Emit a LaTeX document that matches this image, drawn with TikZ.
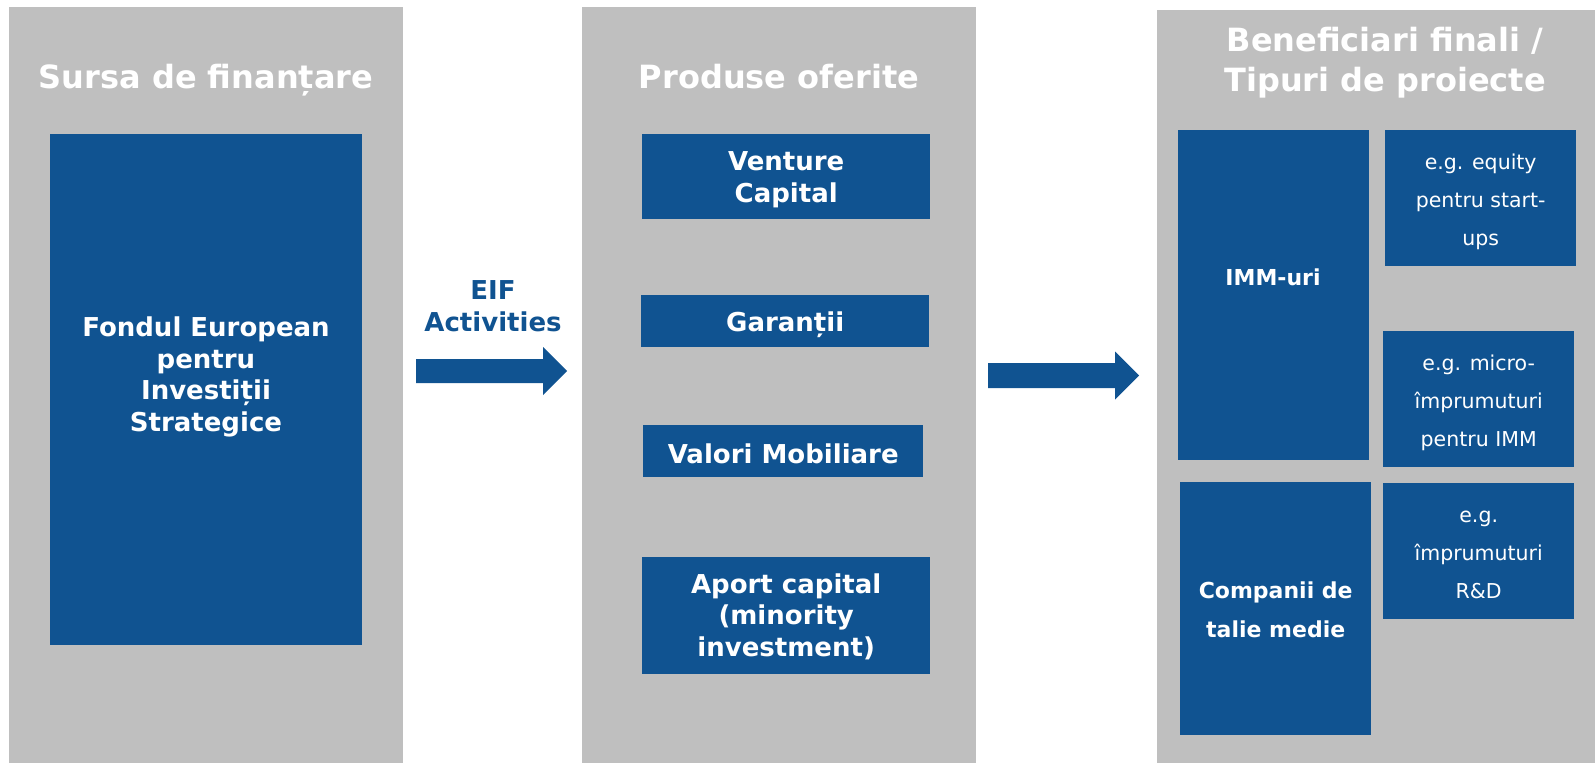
\documentclass[tikz,border=0pt]{standalone}
\usepackage{fontspec}
\setmainfont{DejaVu Sans}
\definecolor{panelgray}{HTML}{BFBFBF}
\definecolor{eifblue}{HTML}{105391}
\tikzset{
  panel/.style={fill=panelgray, draw=none, inner sep=0pt, anchor=north west},
  bbox/.style={fill=eifblue, draw=none, inner sep=0pt, anchor=north west},
  wtxt/.style={text=white, align=center, inner sep=0pt},
  head/.style={text=white, align=center, font=\fontsize{32}{40}\selectfont\bfseries},
  boldtxt/.style={wtxt, font=\fontsize{26}{31.5}\selectfont\bfseries},
  smalltxt/.style={wtxt, font=\fontsize{20.5}{38}\selectfont},
  bluearrow/.style={fill=eifblue, draw=none}
}
\begin{document}
\begin{tikzpicture}[x=1pt, y=-1pt]
\useasboundingbox (0,0) rectangle (1595,763);
% panels
\node[panel, minimum width=394pt, minimum height=756pt] (p1) at (9,7) {};
\node[panel, minimum width=394pt, minimum height=756pt] (p2) at (582,7) {};
\node[panel, minimum width=438pt, minimum height=753pt] (p3) at (1157,10) {};
% headers
\node[head, anchor=base] (h1) at (206,88) {Sursa de finanțare};
\node[head, anchor=base] (h2) at (779,88) {Produse oferite};
\node[head] (h3) at (1385,63) {Beneficiari finali /\\Tipuri de proiecte};
% column 1
\node[bbox, minimum width=312pt, minimum height=511pt] (fond) at (50,134) {};
\node[boldtxt] (fondt) at (206,377) {Fondul European\\pentru\\Investiții\\Strategice};
% column 2
\node[bbox, minimum width=288pt, minimum height=85pt] (vc) at (642,134) {};
\node[boldtxt] (vct) at ([yshift=-3pt]vc.center) {Venture\\Capital};
\node[bbox, minimum width=288pt, minimum height=52pt] (gar) at (641,295) {};
\node[boldtxt] (gart) at ([yshift=-4pt]gar.center) {Garanții};
\node[bbox, minimum width=280pt, minimum height=52pt] (val) at (643,425) {};
\node[boldtxt] (valt) at ([yshift=-3pt]val.center) {Valori Mobiliare};
\node[bbox, minimum width=288pt, minimum height=117pt] (apo) at (642,557) {};
\node[boldtxt] (apot) at ([yshift=-1pt]apo.center) {Aport capital\\(minority\\investment)};
% column 3
\node[bbox, minimum width=191pt, minimum height=330pt] (imm) at (1178,130) {};
\node[wtxt, font=\fontsize{22}{38}\selectfont\bfseries] (immt) at (1273,277) {IMM-uri};
\node[bbox, minimum width=191pt, minimum height=136pt] (eq) at (1385,130) {};
\node[smalltxt] (eqt) at ([yshift=-4pt]eq.center) {e.g. equity\\pentru start-\\ups};
\node[bbox, minimum width=191pt, minimum height=136pt] (mic) at (1383,331) {};
\node[smalltxt] (mict) at ([yshift=-4pt]mic.center) {e.g. micro-\\împrumuturi\\pentru IMM};
\node[bbox, minimum width=191pt, minimum height=253pt] (comp) at (1180,482) {};
\node[wtxt, font=\fontsize{22}{39}\selectfont\bfseries] (compt) at ([yshift=-1pt]comp.center) {Companii de\\talie medie};
\node[bbox, minimum width=191pt, minimum height=136pt] (rd) at (1383,483) {};
\node[smalltxt] (rdt) at ([yshift=-4pt]rd.center) {e.g.\\împrumuturi\\R\&D};
% arrows
\coordinate (a1s) at (416,371);
\coordinate (a1t) at (567,371);
\fill[bluearrow] (a1s) ++(0,-12) -- ++(127,0) -- ++(0,-12) -- (a1t) -- ++(-24,24) -- ++(0,-12) -- ++(-127,0) -- cycle;
\node[text=eifblue, align=center, font=\fontsize{26}{32}\selectfont\bfseries] (eif) at (493,306) {EIF\\Activities};
\coordinate (a2s) at (988,375.5);
\coordinate (a2t) at (1139,375.5);
\fill[bluearrow] (a2s) ++(0,-12.5) -- ++(127,0) -- ++(0,-11.5) -- (a2t) -- ++(-24,24) -- ++(0,-11.5) -- ++(-127,0) -- cycle;
\end{tikzpicture}
\end{document}
